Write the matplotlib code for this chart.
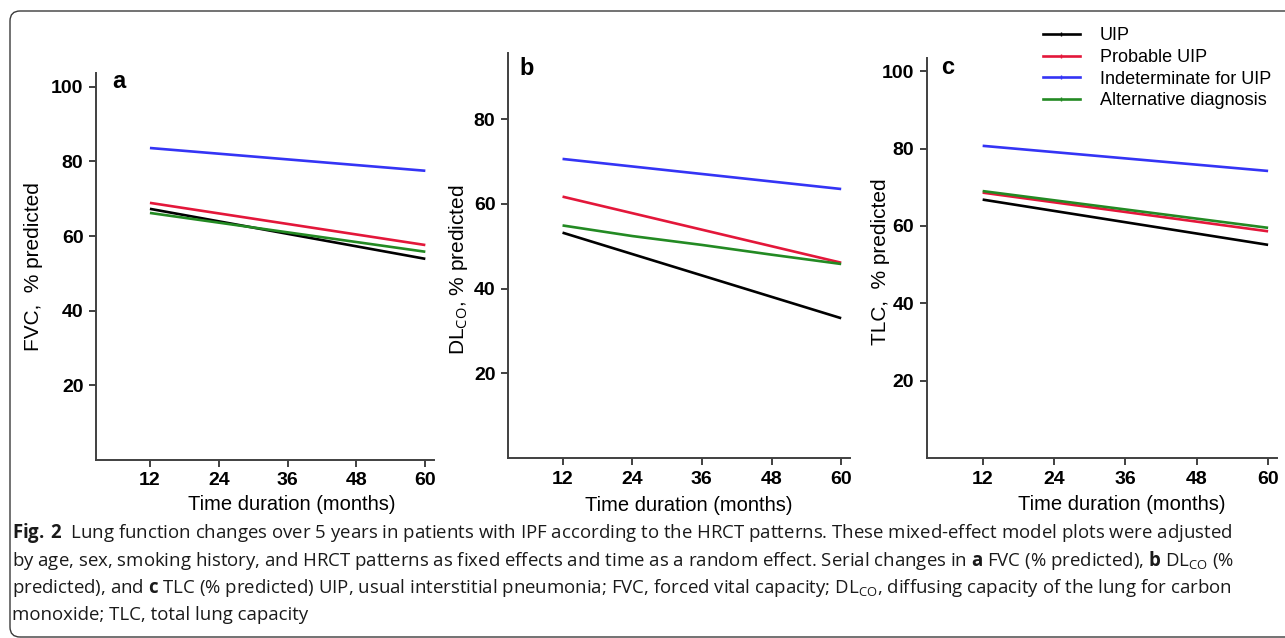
import numpy as np
import matplotlib
matplotlib.use("Agg")
import matplotlib.pyplot as plt
from matplotlib.lines import Line2D
from matplotlib.patches import FancyBboxPatch
from matplotlib.transforms import IdentityTransform

#Fonts
plt.rcParams['font.family'] = ['Liberation Sans', 'DejaVu Sans']
plt.rcParams['mathtext.fontset'] = 'custom'
plt.rcParams['mathtext.rm'] = 'Open Sans'
plt.rcParams['mathtext.bf'] = 'Open Sans:bold'

#Data
groups = ["UIP", "Probable UIP", "Indeterminate for UIP", "Alternative diagnosis"]
colors = ["#000000", "#e3173a", "#3434f5", "#238a23"]
months_ends = [12, 60]
months_all = [12, 24, 36, 48, 60]

fvc = {
    "UIP": [67.3, 53.9],
    "Probable UIP": [68.9, 57.6],
    "Indeterminate for UIP": [83.6, 77.5],
    "Alternative diagnosis": [66.2, 55.8],
}
dlco = {
    "UIP": [53.2, 33.0],
    "Probable UIP": [61.7, 46.1],
    "Indeterminate for UIP": [70.6, 63.5],
    "Alternative diagnosis": [54.9, 52.4, 50.3, 48.0, 45.8],
}
tlc = {
    "UIP": [66.8, 55.1],
    "Probable UIP": [68.6, 58.6],
    "Indeterminate for UIP": [80.7, 74.2],
    "Alternative diagnosis": [69.0, 59.5],
}

x_ticks = [12, 24, 36, 48, 60]
caption_lines = [
    r"$\mathbf{Fig.\,2}$  Lung function changes over 5 years in patients with IPF according to the HRCT patterns. These mixed-effect model plots were adjusted",
    r"by age, sex, smoking history, and HRCT patterns as fixed effects and time as a random effect. Serial changes in $\mathbf{a}$ FVC (% predicted), $\mathbf{b}$ DL$_{\mathrm{CO}}$ (%",
    r"predicted), and $\mathbf{c}$ TLC (% predicted) UIP, usual interstitial pneumonia; FVC, forced vital capacity; DL$_{\mathrm{CO}}$, diffusing capacity of the lung for carbon",
    "monoxide; TLC, total lung capacity",
]

fig = plt.figure(figsize=(12.85, 6.38), dpi=100)

#Rounded frame around everything
frame = FancyBboxPatch((10, 1), 1300, 626, boxstyle="round,pad=0,rounding_size=10",
                       transform=IdentityTransform(), fill=False, edgecolor="#3a3a3a", linewidth=1.0)
fig.patches.append(frame)

#Panel setup: (data, rect, ylim, yticks, ylabel, letter, letter pos, xlabel x, ylabel pos)
panels = [
    (fvc, [0.0747, 0.279, 0.263, 0.6066], 103.7, [20, 40, 60, 80, 100], "FVC,  % predicted", "a", (0.047, 0.977), 0.58, (-0.185, 0.5)),
    (dlco, [0.3953, 0.2821, 0.2661, 0.6348], 95.6, [20, 40, 60, 80], r"DL$_{\mathrm{CO}}$, % predicted", "b", (0.035, 0.963), 0.53, (-0.146, 0.464)),
    (tlc, [0.7212, 0.2821, 0.2726, 0.627], 103.4, [20, 40, 60, 80, 100], "TLC,  % predicted", "c", (0.041, 0.975), 0.557, (-0.133, 0.49)),
]

axes = []
for data, rect, ytop, yticks, ylab, letter, lpos, xlab_x, ylab_pos in panels:
    ax = fig.add_axes(rect)
    for name, col in zip(groups, colors):
        vals = data[name]
        xs = months_all if len(vals) == 5 else months_ends
        ax.plot(xs, vals, color=col, linewidth=1.9, solid_capstyle="butt")
    ax.set_xlim(2.6, 61.5)
    ax.set_ylim(0, ytop)
    ax.set_xticks(x_ticks)
    ax.set_yticks(yticks)
    ax.spines["top"].set_visible(False)
    ax.spines["right"].set_visible(False)
    for s in ["left", "bottom"]:
        ax.spines[s].set_color("#404040")
        ax.spines[s].set_linewidth(1.4)
    ax.tick_params(direction="out", length=5, width=1.4, color="#404040", labelsize=14, pad=4)
    for lab in ax.get_xticklabels() + ax.get_yticklabels():
        lab.set_fontweight("bold")
    ax.set_xlabel("Time duration (months)", fontsize=14.5)
    ax.xaxis.set_label_coords(xlab_x, -0.116)
    ax.xaxis.label.set_va("center")
    ax.set_ylabel(ylab, fontsize=15)
    ax.yaxis.set_label_coords(*ylab_pos)
    ax.yaxis.label.set_va("center")
    ax.text(lpos[0], lpos[1], letter, transform=ax.transAxes, fontsize=17, fontweight="bold",
            ha="left", va="center")
    axes.append(ax)

#Legend at the top right
handles = [Line2D([0], [0], color=c, linewidth=1.9, marker="|", markersize=3) for c in colors]
fig.legend(handles, groups, loc="upper left", bbox_to_anchor=(0.799, 0.983), frameon=False,
           fontsize=13, handlelength=2.05, handletextpad=1.1, labelspacing=0.265, borderpad=0.4)

#Caption
baselines = [538, 565.5, 593, 620]
for line, yb in zip(caption_lines, baselines):
    fig.text(12 / 1285, 1 - yb / 638, line, fontsize=13.4, family=["Open Sans", "DejaVu Sans"],
             ha="left", va="baseline", color="#1a1a1a")

fig.savefig("out.png", dpi=100)
